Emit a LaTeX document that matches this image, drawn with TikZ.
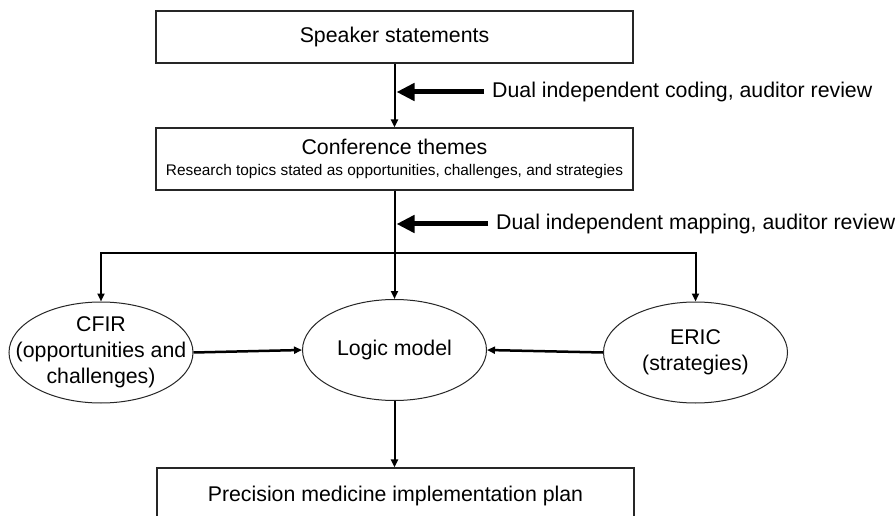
\documentclass[tikz,border=0pt]{standalone}
\usepackage{fontspec}
\setmainfont{Liberation Sans}
\usetikzlibrary{arrows.meta,shapes.geometric}
\begin{document}
\begin{tikzpicture}[x=1pt,y=-1pt,
  box/.style={draw=black!85,line width=1.2pt,minimum width=477pt,inner sep=0pt,align=center,font=\fontsize{21.3}{26}\selectfont},
  oval/.style={ellipse,draw=black!85,line width=1pt,minimum width=184pt,minimum height=101pt,inner sep=0pt},
  txt/.style={align=center,inner sep=0pt,font=\fontsize{21.3}{26}\selectfont},
  conn/.style={line width=2pt,-{Triangle[length=8pt,width=7pt]}},
  fat/.style={line width=5pt,-{Triangle[length=18pt,width=17pt]}},
  note/.style={anchor=west,inner sep=0pt,font=\fontsize{21.3}{26}\selectfont}]
  \clip (0,0) rectangle (895,516);
  \fill[white] (0,0) rectangle (895,516);
  \node[box,minimum height=52pt] (speak) at (394.5,37) {Speaker statements};
  \node[box,minimum height=62pt] (theme) at (394.5,159) {Conference themes\\[-5pt]{\fontsize{15.4}{18}\selectfont Research topics stated as opportunities, challenges, and strategies}};
  \node[oval,label={[txt]center:CFIR\\(opportunities and\\challenges)}] (cfir) at (101,352.5) {};
  \node[oval,label={[txt]center:Logic model}] (logic) at (394.5,350) {};
  \node[oval,label={[txt]center:ERIC\\(strategies)}] (eric) at (695.5,352.5) {};
  \node[box,minimum height=56pt] (plan) at (395.5,496) {Precision medicine implementation plan};
  \node[note] (coding) at (492,92) {Dual independent coding, auditor review};
  \node[note] (mapping) at (496,224) {Dual independent mapping, auditor review};
  \coordinate (split) at (394.5,253);
  \draw[conn] (speak) -- (theme);
  \draw[conn] (theme.south) -- (logic.north);
  \draw[conn] (split) -| (cfir.north);
  \draw[conn] (split) -| (eric.north);
  \draw[conn,line width=2.5pt] (cfir.east) -- (logic.west);
  \draw[conn,line width=2.5pt] (eric.west) -- (logic.east);
  \draw[conn] (logic.south) -- (logic.south |- plan.north);
  \draw[fat] ([xshift=-8pt]coding.west) -- ([xshift=2pt]speak.south |- coding.west);
  \draw[fat] ([xshift=-8pt]mapping.west) -- ([xshift=2pt]speak.south |- mapping.west);
\end{tikzpicture}
\end{document}
